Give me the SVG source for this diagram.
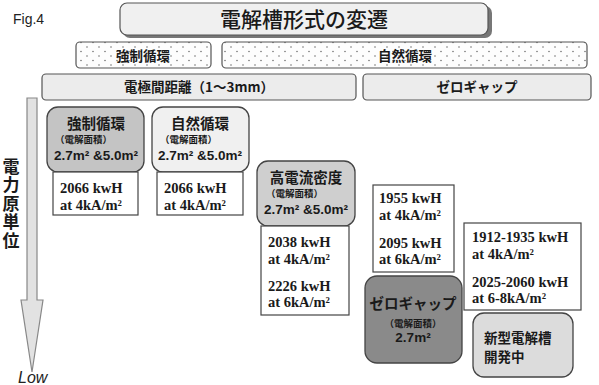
<svg xmlns="http://www.w3.org/2000/svg" width="599" height="385" viewBox="0 0 599 385">
<defs>
<pattern id="dots" width="12" height="9" patternUnits="userSpaceOnUse">
<rect width="12" height="9" fill="#fdfdfd"/>
<circle cx="3" cy="2" r="0.7" fill="#555"/>
<circle cx="9" cy="6.5" r="0.7" fill="#555"/>
</pattern>
</defs>
<style>
.jp{font-family:"Noto Sans CJK JP","Noto Sans",sans-serif;fill:#1a1a1a;font-weight:bold}
.num{font-family:"Liberation Serif",serif;font-weight:bold;fill:#1a1a1a;font-size:14.5px}
.sz{font-family:"Liberation Sans",Arial,sans-serif;font-weight:bold;fill:#1a1a1a;font-size:13.5px}
.hdr{stroke:#555;stroke-width:1.2}
.node{stroke:#444;stroke-width:1.3}
.val{fill:#fff;stroke:#444;stroke-width:1.2}
</style>
<rect width="599" height="385" fill="#fff"/>
<text x="13" y="24" font-family="Liberation Sans,Arial,sans-serif" font-size="14" fill="#222">Fig.4</text>

<g id="title">
<rect x="123" y="6" width="369" height="32" rx="7" fill="#777"/>
<rect x="120" y="3" width="368" height="32" rx="7" fill="#f0f0f0" class="hdr"/>
<text x="304" y="27" class="jp" font-size="21" text-anchor="middle" style="font-weight:500">電解槽形式の変遷</text>
</g>

<g id="forced-header">
<rect x="76" y="42" width="135" height="26" rx="4" fill="url(#dots)" class="hdr"/>
<text x="143" y="61" class="jp" font-size="13.5" text-anchor="middle">強制循環</text>
</g>
<g id="natural-header">
<rect x="222" y="42" width="365" height="26" rx="4" fill="url(#dots)" class="hdr"/>
<text x="405" y="61" class="jp" font-size="13.5" text-anchor="middle">自然循環</text>
</g>
<g id="gap-header">
<rect x="42" y="74" width="314" height="26" rx="4" fill="#ececec" class="hdr"/>
<text x="199" y="92" class="jp" font-size="13.5" text-anchor="middle">電極間距離（1～3mm）</text>
</g>
<g id="zerogap-header">
<rect x="363" y="74" width="228" height="26" rx="4" fill="#ececec" class="hdr"/>
<text x="477" y="92" class="jp" font-size="13.5" text-anchor="middle">ゼロギャップ</text>
</g>

<g id="axis">
<path d="M27,98 H37 V300 H43 L32,372 L21,300 H27 Z" fill="#e2e2e2" stroke="#888" stroke-width="1.2"/>
<text class="jp" font-size="17" x="11" y="158" style="writing-mode:vertical-rl;letter-spacing:1.5px">電力原単位</text>
<text x="18" y="383" font-family="Liberation Sans,Arial,sans-serif" font-style="italic" font-size="16" fill="#222">Low</text>
</g>

<g id="node-forced">
<rect x="47" y="107" width="97" height="65" rx="11" fill="#c4c4c4" class="node"/>
<text x="96" y="129" class="jp" font-size="14.5" text-anchor="middle">強制循環</text>
<text x="55" y="143" class="jp" font-size="9.5">（電解面積）</text>
<text x="96" y="160" class="sz" text-anchor="middle">2.7m² &amp;5.0m²</text>
<rect x="53" y="172" width="85" height="43" class="val"/>
<text x="60" y="193" class="num">2066 kwH</text>
<text x="60" y="210" class="num">at 4kA/m²</text>
</g>

<g id="node-natural">
<rect x="152" y="107" width="97" height="65" rx="11" fill="#f0f0f0" class="node"/>
<text x="200" y="129" class="jp" font-size="14.5" text-anchor="middle">自然循環</text>
<text x="160" y="143" class="jp" font-size="9.5">（電解面積）</text>
<text x="200" y="160" class="sz" text-anchor="middle">2.7m² &amp;5.0m²</text>
<rect x="157" y="172" width="86" height="43" class="val"/>
<text x="164" y="193" class="num">2066 kwH</text>
<text x="164" y="210" class="num">at 4kA/m²</text>
</g>

<g id="node-highcurrent">
<rect x="257" y="161" width="98" height="65" rx="11" fill="#cfcfcf" class="node"/>
<text x="306" y="183" class="jp" font-size="14.5" text-anchor="middle">高電流密度</text>
<text x="266" y="197" class="jp" font-size="9.5">（電解面積）</text>
<text x="306" y="214" class="sz" text-anchor="middle">2.7m² &amp;5.0m²</text>
<rect x="261" y="226" width="88" height="89" class="val"/>
<text x="268" y="247" class="num">2038 kwH</text>
<text x="268" y="264" class="num">at 4kA/m²</text>
<text x="268" y="291" class="num">2226 kwH</text>
<text x="268" y="307" class="num">at 6kA/m²</text>
</g>

<g id="node-zerogap">
<rect x="373" y="185" width="81" height="87" class="val"/>
<text x="379" y="203" class="num">1955 kwH</text>
<text x="379" y="220" class="num">at 4kA/m²</text>
<text x="379" y="248" class="num">2095 kwH</text>
<text x="379" y="264" class="num">at 6kA/m²</text>
<rect x="365" y="276" width="97" height="87" rx="12" fill="#8a8a8a" class="node"/>
<text x="413" y="309" class="jp" font-size="14.5" text-anchor="middle">ゼロギャップ</text>
<text x="413" y="327" class="jp" font-size="9.5" text-anchor="middle">（電解面積）</text>
<text x="413" y="342" class="sz" text-anchor="middle">2.7m²</text>
</g>

<g id="node-new">
<rect x="464" y="223" width="117" height="87" class="val"/>
<text x="472" y="242" class="num">1912-1935 kwH</text>
<text x="472" y="259" class="num">at 4kA/m²</text>
<text x="472" y="287" class="num">2025-2060 kwH</text>
<text x="472" y="303" class="num">at 6-8kA/m²</text>
<rect x="473" y="313" width="100" height="64" rx="11" fill="#dcdcdc" class="node"/>
<text x="484" y="343" class="jp" font-size="13.5">新型電解槽</text>
<text x="484" y="362" class="jp" font-size="13.5">開発中</text>
</g>
</svg>
